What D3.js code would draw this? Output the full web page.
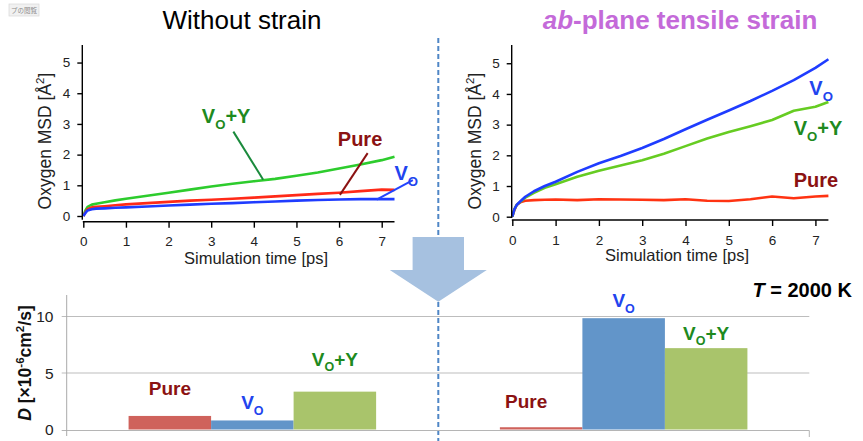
<!DOCTYPE html>
<html><head><meta charset="utf-8">
<script src="https://cdn.jsdelivr.net/npm/d3@7"></script>
<style>
html,body{margin:0;padding:0;background:#fff;}
svg{display:block;font-family:"Liberation Sans",Arial,Helvetica,sans-serif;}
</style></head><body>
<svg id="fig" width="863" height="441"></svg>
<script>
// ---- MSD curves (Å²) sampled along simulation time (ps) ----
const timePs        = [0, 0.05, 0.1, 0.2, 0.3, 0.5, 0.75, 1, 1.5, 2, 2.5, 3, 3.5, 4, 4.5, 5, 5.5, 6, 6.5, 7, 7.3];
const noStrainPure  = [0, 0.12, 0.22, 0.28, 0.30, 0.32, 0.35, 0.38, 0.42, 0.46, 0.50, 0.53, 0.56, 0.60, 0.64, 0.68, 0.72, 0.76, 0.81, 0.86, 0.85];
const noStrainVo    = [0, 0.10, 0.18, 0.22, 0.24, 0.25, 0.27, 0.28, 0.31, 0.34, 0.37, 0.40, 0.42, 0.45, 0.47, 0.50, 0.52, 0.54, 0.55, 0.55, 0.55];
const noStrainVoY   = [0, 0.18, 0.30, 0.37, 0.40, 0.45, 0.51, 0.56, 0.66, 0.76, 0.86, 0.96, 1.05, 1.13, 1.21, 1.31, 1.42, 1.55, 1.68, 1.82, 1.93];
const strainPure    = [0, 0.22, 0.38, 0.48, 0.52, 0.54, 0.55, 0.56, 0.54, 0.57, 0.56, 0.55, 0.54, 0.57, 0.52, 0.51, 0.57, 0.66, 0.60, 0.66, 0.68];
const strainVo      = [0, 0.25, 0.38, 0.52, 0.65, 0.83, 1.00, 1.14, 1.46, 1.74, 1.98, 2.24, 2.53, 2.85, 3.16, 3.46, 3.77, 4.10, 4.45, 4.85, 5.13];
const strainVoY     = [0, 0.25, 0.38, 0.50, 0.62, 0.78, 0.94, 1.06, 1.30, 1.50, 1.67, 1.84, 2.05, 2.30, 2.55, 2.76, 2.95, 3.15, 3.45, 3.58, 3.74];

// ---- Diffusion coefficients D (×10⁻⁶ cm²/s) at T = 2000 K ----
const barGroups     = ["Without strain", "ab-plane tensile strain"];
const barSeries     = ["Pure", "VO", "VO+Y"];
const diffNoStrain  = [1.2, 0.8, 3.35];
const diffStrain    = [0.2, 9.85, 7.2];

// ---- tick labels ----
const msdTicks  = [0, 1, 2, 3, 4, 5];
const timeTicks = [0, 1, 2, 3, 4, 5, 6, 7];
const dTicks    = [0, 5, 10];

const svg = d3.select("#fig");

// text with sub/superscript runs
function rich(sel, parts, size) {
  let shift = 0;
  parts.forEach(p => {
    const target = p.sub ? 0.28 * size : p.sup ? -0.42 * size : 0;
    const ts = sel.append("tspan").text(p.t).attr("dy", target - shift);
    if (p.sub || p.sup) ts.attr("font-size", size * 0.66);
    if (p.italic) ts.attr("font-style", "italic");
    shift = target;
  });
  return sel;
}
const labelParts = {
  "Pure": [{t: "Pure"}],
  "VO":   [{t: "V"}, {t: "O", sub: true}],
  "VO+Y": [{t: "V"}, {t: "O", sub: true}, {t: "+Y"}]
};

// tiny popup tag in the corner
const tag = svg.append("g");
tag.append("clipPath").attr("id", "tagclip").append("rect").attr("x", 9).attr("y", 4).attr("width", 30).attr("height", 12);
tag.append("rect").attr("x", 9).attr("y", 4).attr("width", 30).attr("height", 12).attr("fill", "#f1f1f1").attr("stroke", "#dcdcdc").attr("stroke-width", 0.8);
tag.append("text").attr("x", 11).attr("y", 13).attr("font-size", 6.5).attr("fill", "#8a8a8a")
  .attr("clip-path", "url(#tagclip)").attr("font-family", "Noto Sans CJK JP").text("プの閲覧");

// ---- titles ----
svg.append("text").attr("x", 242).attr("y", 29).attr("text-anchor", "middle")
  .attr("font-size", 26).attr("fill", "#000").text("Without strain");
const t2 = svg.append("text").attr("x", 680).attr("y", 29).attr("text-anchor", "middle")
  .attr("font-size", 26).attr("font-weight", "bold").attr("fill", "#c46ad9");
t2.append("tspan").attr("font-style", "italic").text("ab");
t2.append("tspan").text("-plane tensile strain");

// ---- divider ----
svg.append("line").attr("x1", 438.3).attr("x2", 438.3).attr("y1", 38).attr("y2", 441)
  .attr("stroke", "#4f86c6").attr("stroke-width", 2).attr("stroke-dasharray", "5,3");

// ---- MSD panels ----
function msdPanel(cfg) {
  const g = svg.append("g");
  const x = d3.scaleLinear().domain([0, 7.3]).range(cfg.xr);
  const y = d3.scaleLinear().domain([0, 5.5]).range(cfg.yr);

  const line = d3.line().x((d, i) => x(timePs[i])).y(d => y(d));
  cfg.series.forEach(s => {
    g.append("path").datum(s.values).attr("d", line).attr("fill", "none")
      .attr("stroke", s.color).attr("stroke-width", 2.6).attr("stroke-linejoin", "round");
  });

  // axes
  const ya = g.append("g").attr("transform", `translate(${cfg.yAxisX},0)`)
    .call(d3.axisLeft(y).tickValues(msdTicks).tickFormat(d3.format("d")).tickSize(5).tickPadding(cfg.yPad).tickSizeOuter(0));
  ya.select(".domain").remove();
  g.append("line").attr("x1", cfg.yAxisX).attr("x2", cfg.yAxisX).attr("y1", 45).attr("y2", cfg.xAxisY - 2)
    .attr("stroke", "#000").attr("stroke-width", 1.4);
  const xa = g.append("g").attr("transform", `translate(0,${cfg.xAxisY})`)
    .call(d3.axisBottom(x).tickValues(timeTicks).tickFormat(d3.format("d")).tickSize(6).tickPadding(9).tickSizeOuter(0));
  xa.select(".domain").remove();
  g.append("line").attr("x1", cfg.xr[0] - 0.5).attr("x2", cfg.xr[1]).attr("y1", cfg.xAxisY).attr("y2", cfg.xAxisY)
    .attr("stroke", "#000").attr("stroke-width", 1.4);
  [ya, xa].forEach(a => {
    a.selectAll(".tick line").attr("stroke", "#000").attr("stroke-width", 1.4);
    a.selectAll(".tick text").attr("font-size", 13.5).attr("fill", "#222").attr("font-family", "Liberation Sans, Arial, sans-serif");
  });

  g.append("text").attr("x", cfg.xTitle[0]).attr("y", cfg.xTitle[1]).attr("text-anchor", "middle")
    .attr("font-size", 16.5).attr("fill", "#222").text("Simulation time [ps]");
  const yt = g.append("text").attr("transform", `translate(${cfg.yTitleX},141) rotate(-90)`)
    .attr("text-anchor", "middle").attr("font-size", 17.5).attr("fill", "#222");
  rich(yt, [{t: "Oxygen MSD [Å"}, {t: "2", sup: true}, {t: "]"}], 17.5);

  // labels and leader lines
  cfg.labels.forEach(l => {
    if (l.lead) {
      g.append("line").attr("x1", x(l.lead[0])).attr("y1", y(l.lead[1]))
        .attr("x2", x(l.lead[2])).attr("y2", y(l.lead[3]))
        .attr("stroke", l.leadColor).attr("stroke-width", 2);
    }
    const t = g.append("text").attr("x", x(l.at[0])).attr("y", y(l.at[1]))
      .attr("font-size", 20).attr("font-weight", "bold").attr("fill", l.color);
    rich(t, labelParts[l.name], 20);
  });
}

msdPanel({
  xr: [83.3, 394.5], yr: [216, 47.2], yAxisX: 82.3, xAxisY: 221.7, yPad: 7,
  xTitle: [256, 264], yTitleX: 51,
  series: [
    {values: noStrainVoY, color: "#2dcc2d"},
    {values: noStrainPure, color: "#ff2a18"},
    {values: noStrainVo, color: "#1f3cff"}
  ],
  labels: [
    {name: "VO+Y", at: [2.78, 3.02], color: "#1e8a1e", lead: [3.52, 2.75, 4.22, 1.18], leadColor: "#1a8a3c"},
    {name: "Pure", at: [5.97, 2.28], color: "#8b1212", lead: [6.67, 2.05, 6.02, 0.69], leadColor: "#8b1212"},
    {name: "VO",   at: [7.3, 1.17], color: "#2244ee", lead: [7.73, 1.17, 6.88, 0.53], leadColor: "#2244ff"}
  ]
});

msdPanel({
  xr: [512.3, 828.4], yr: [216.7, 47.9], yAxisX: 511.7, xAxisY: 220, yPad: 7,
  xTitle: [677, 261], yTitleX: 481,
  series: [
    {values: strainPure, color: "#ff3312"},
    {values: strainVoY, color: "#66cc22"},
    {values: strainVo, color: "#1f3cff"}
  ],
  labels: [
    {name: "VO",   at: [6.86, 3.96], color: "#2244ee"},
    {name: "VO+Y", at: [6.5, 2.66], color: "#1e8a1e"},
    {name: "Pure", at: [6.5, 0.96], color: "#8b1212"}
  ]
});

// ---- arrow ----
const ax = 438.3;
svg.append("path")
  .attr("d", `M${ax - 25.7},237 H${ax + 25.7} V270 H${ax + 48.5} L${ax},301.7 L${ax - 48.5},270 H${ax - 25.7} Z`)
  .attr("fill", "#a6c1e0");

// ---- diffusion coefficient bars ----
const bx0 = d3.scaleBand().domain(barGroups).range([66.7, 809.3]).padding(0);
const bx1 = d3.scaleBand().domain(barSeries).range([0, bx0.bandwidth()]).paddingInner(0).paddingOuter(0.75);
const by = d3.scaleLinear().domain([0, 12]).range([429.5, 293.9]);
const barColors = ["#cf625c", "#6295c9", "#a9c46b"];
const labelColors = ["#8b1212", "#2244ee", "#1e8a1e"];
const bg = svg.append("g");

// gridlines + value axis
bg.selectAll("line.grid").data(dTicks.filter(d => d > 0)).join("line").attr("class", "grid")
  .attr("x1", 61.7).attr("x2", 809.3).attr("y1", d => by(d)).attr("y2", d => by(d))
  .attr("stroke", "#bdbdbd").attr("stroke-width", 1);
bg.selectAll("text.ytick").data(dTicks).join("text").attr("class", "ytick")
  .attr("x", 53.5).attr("y", d => by(d)).attr("dy", "0.36em").attr("text-anchor", "end")
  .attr("font-size", 15.5).attr("fill", "#222").text(d => d);

const groupData = [diffNoStrain, diffStrain];
groupData.forEach((vals, gi) => {
  const gx = bx0(barGroups[gi]);
  bg.selectAll(null).data(vals).join("rect")
    .attr("x", (d, i) => gx + bx1(barSeries[i])).attr("width", bx1.bandwidth())
    .attr("y", d => by(d)).attr("height", d => by(0) - by(d))
    .attr("fill", (d, i) => barColors[i]);
});

// category axis with boundary ticks
bg.append("line").attr("x1", 61.7).attr("x2", 809.3).attr("y1", by(0) + 1).attr("y2", by(0) + 1)
  .attr("stroke", "#b5b5b5").attr("stroke-width", 1);
bg.append("line").attr("x1", 66.7).attr("x2", 66.7).attr("y1", 295).attr("y2", 436)
  .attr("stroke", "#a9a9a9").attr("stroke-width", 1);
[bx0.range()[1]].forEach(v => bg.append("line").attr("x1", v).attr("x2", v)
  .attr("y1", by(0) + 1).attr("y2", 437).attr("stroke", "#b5b5b5"));

// value labels above bars
const labelLift = [[21, 11, 26], [19, 11, 8]];
const labelShift = [[0, 0, 0], [-15, 0, 0]];
groupData.forEach((vals, gi) => {
  const gx = bx0(barGroups[gi]);
  vals.forEach((v, i) => {
    const t = bg.append("text")
      .attr("x", gx + bx1(barSeries[i]) + bx1.bandwidth() / 2 + labelShift[gi][i])
      .attr("y", by(v) - labelLift[gi][i])
      .attr("text-anchor", "middle").attr("font-size", 19).attr("font-weight", "bold")
      .attr("fill", labelColors[i]);
    rich(t, labelParts[barSeries[i]], 19);
  });
});

// value axis title
const dt = bg.append("text").attr("transform", "translate(31,363) rotate(-90)")
  .attr("text-anchor", "middle").attr("font-size", 17.5).attr("font-weight", "bold").attr("fill", "#111");
rich(dt, [{t: "D", italic: true}, {t: " [×10"}, {t: "-6", sup: true}, {t: "cm"}, {t: "2", sup: true}, {t: "/s]"}], 17.5);

// temperature note
const tn = svg.append("text").attr("x", 852).attr("y", 296.5).attr("text-anchor", "end")
  .attr("font-size", 20).attr("font-weight", "bold").attr("fill", "#000");
tn.append("tspan").attr("font-style", "italic").text("T");
tn.append("tspan").text(" = 2000 K");
</script>
</body></html>
